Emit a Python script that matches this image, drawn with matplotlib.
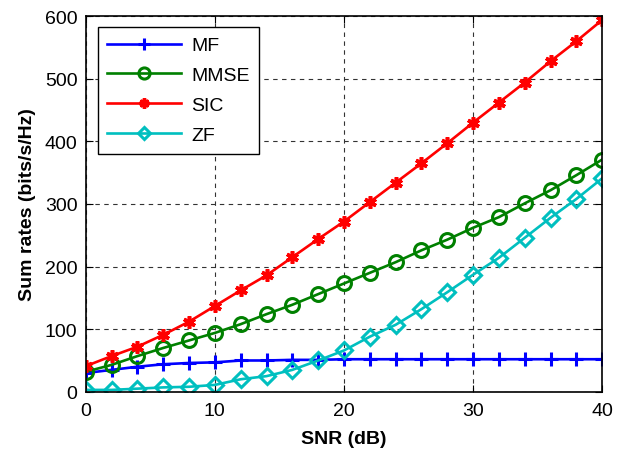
import numpy as np
import matplotlib.pyplot as plt

plt.rcParams['font.family'] = ['Liberation Sans', 'DejaVu Sans']

# SNR axis (dB)
snr = [0, 2, 4, 6, 8, 10, 12, 14, 16, 18, 20, 22, 24, 26, 28, 30, 32, 34, 36, 38, 40]

# Sum rates (bits/s/Hz)
mf = [30, 35, 40, 44, 46, 47, 50, 50, 51, 51, 52, 52, 52, 52, 52, 52, 52, 52, 52, 52, 52]
mmse = [32, 43, 57, 70, 82, 94, 108, 124, 139, 156, 173, 190, 207, 226, 243, 262, 279, 301, 322, 346, 371]
sic = [41, 57, 72, 91, 112, 137, 162, 186, 215, 244, 272, 303, 334, 365, 397, 430, 462, 494, 528, 560, 594]
zf = [3, 3, 5, 7, 8, 11, 20, 25, 35, 50, 66, 88, 107, 132, 159, 187, 214, 246, 278, 308, 341]

xticks = [0, 10, 20, 30, 40]
yticks = [0, 100, 200, 300, 400, 500, 600]

fig = plt.figure(figsize=(6.17, 4.52), dpi=100)
ax = fig.add_axes([0.139, 0.131, 0.837, 0.831])

lw = 1.9
ax.plot(snr, mf, color='#0000ff', lw=lw, marker='+', ms=10, mew=2.2, label='MF')
ax.plot(snr, mmse, color='#008000', lw=lw, marker='o', ms=10, mew=2.2,
        mfc='none', label='MMSE')
ax.plot(snr, sic, color='#ff0000', lw=lw, marker=(6, 2, 0), ms=9, mew=2.6, label='SIC')
ax.plot(snr, zf, color='#00bfbf', lw=lw, marker='D', ms=8, mew=2.2,
        mfc='none', label='ZF')

ax.set_xlim(0, 40)
ax.set_ylim(0, 600)
ax.set_xticks(xticks)
ax.set_yticks(yticks)
ax.grid(True, color='#333333', ls=(0, (4, 4)), lw=0.8)
ax.tick_params(direction='in', top=True, right=True, labelsize=14, length=5)
ax.tick_params(axis='x', pad=7)
ax.tick_params(axis='y', pad=6)
for sp in ax.spines.values():
    sp.set_linewidth(1.2)

ax.set_xlabel('SNR (dB)', fontsize=14, fontweight='bold', labelpad=8)
ax.set_ylabel('Sum rates (bits/s/Hz)', fontsize=14, fontweight='bold', labelpad=6)

leg = ax.legend(loc='upper left', fontsize=14, handlelength=3.8, handletextpad=0.5,
                fancybox=False, edgecolor='black', framealpha=1, borderpad=0.5,
                labelspacing=0.63, markerscale=0.8, borderaxespad=0,
                bbox_to_anchor=(0.023, 0.971))
leg.get_frame().set_linewidth(1.0)

fig.savefig('out.png', dpi=100)
